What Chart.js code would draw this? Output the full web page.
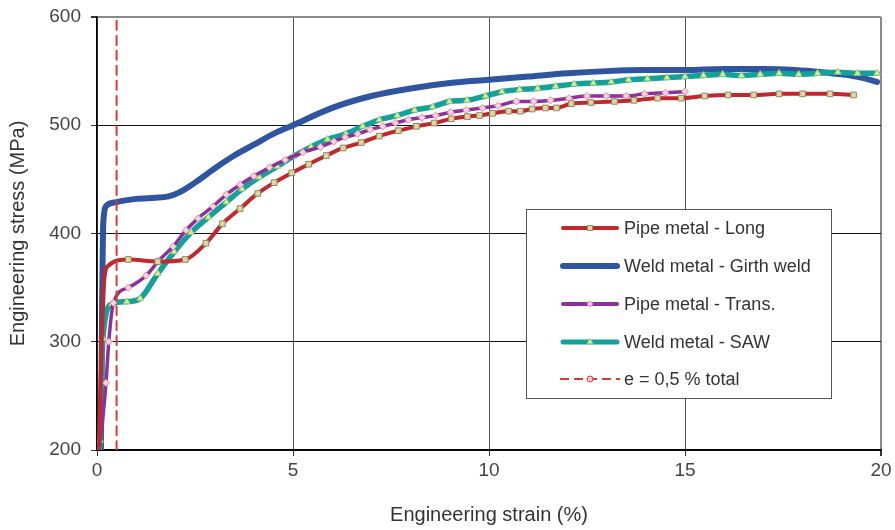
<!DOCTYPE html>
<html>
<head>
<meta charset="utf-8">
<script src="https://cdn.jsdelivr.net/npm/chart.js@4.4.0/dist/chart.umd.min.js"></script>
<style>
  html, body { margin: 0; padding: 0; background: #fff; }
  #wrap { width: 895px; height: 530px; position: relative; }
</style>
</head>
<body>
<div id="wrap"><canvas id="chartStress"></canvas></div>
<script>
// series names
const nomes = ['Pipe metal - Long', 'Weld metal - Girth weld', 'Pipe metal - Trans.', 'Weld metal - SAW', 'e = 0,5 % total'];

// Pipe metal - Long
const longX = [0.05, 0.12, 0.18, 0.28, 0.8, 1.55, 2.25, 2.78, 3.2, 3.65, 4.1, 4.52, 4.97, 5.4, 5.85, 6.28, 6.74, 7.2, 7.69, 8.15, 8.6, 9.04, 9.45, 9.76, 10.09, 10.5, 10.8, 11.1, 11.44, 11.72, 12.1, 12.6, 13.2, 13.7, 14.3, 14.9, 15.5, 16.1, 16.75, 17.4, 18.0, 18.7, 19.3];
const longY = [200, 300, 355, 370, 376, 374, 376, 391, 409, 423, 437, 447, 456, 464, 472, 479, 484, 490, 495, 499, 502, 506, 508, 509, 511, 513, 513, 515, 516, 516, 520, 521, 522, 523, 525, 525, 527, 528, 528, 529, 529, 529, 528];

// Weld metal - Girth weld
const girthX = [0.1, 0.13, 0.16, 0.25, 0.5, 1.0, 1.5, 1.8, 2.1, 2.5, 3.0, 3.5, 4.0, 4.5, 5.0, 6.0, 7.0, 8.0, 9.0, 10.0, 11.0, 12.0, 13.0, 14.0, 15.0, 16.0, 17.0, 17.8, 18.5, 19.0, 19.5, 19.9];
const girthY = [200, 330, 410, 426, 429, 432, 433, 434, 438, 447, 460, 472, 482, 492, 500, 516, 527, 534, 539, 542, 545, 548, 550, 551, 551, 552, 552, 551, 549, 547, 544, 540];

// Pipe metal - Trans.
const transX = [0.05, 0.15, 0.23, 0.3, 0.42, 0.8, 1.25, 1.58, 1.94, 2.27, 2.58, 2.96, 3.3, 3.65, 4.0, 4.4, 4.8, 5.25, 5.7, 6.04, 6.33, 6.65, 6.97, 7.29, 7.61, 7.94, 8.29, 8.64, 9.02, 9.42, 9.83, 10.23, 10.7, 11.14, 11.57, 12.04, 12.5, 13.0, 13.5, 13.97, 14.5, 15.0];
const transY = [200, 230, 262, 300, 336, 350, 361, 375, 388, 403, 414, 425, 436, 445, 453, 461, 468, 475, 480, 485, 489, 492, 496, 499, 502, 505, 507, 509, 512, 514, 516, 518, 522, 522, 523, 525, 527, 527, 527, 529, 530, 531];

// Weld metal - SAW
const sawX = [0.05, 0.08, 0.15, 0.38, 0.76, 1.1, 1.55, 1.97, 2.4, 2.84, 3.3, 3.7, 4.14, 4.6, 5.0, 5.46, 5.88, 6.35, 6.78, 7.2, 7.66, 8.1, 8.56, 8.99, 9.44, 9.91, 10.33, 10.78, 11.24, 11.7, 12.17, 12.66, 13.12, 13.56, 14.04, 14.54, 15.0, 15.47, 15.96, 16.44, 16.92, 17.4, 17.9, 18.38, 18.9, 19.4, 19.9];
const sawY = [200, 209, 303, 335, 337, 340, 363, 383, 401, 415, 429, 441, 452, 462, 471, 480, 487, 492, 499, 505, 509, 514, 517, 522, 523, 527, 531, 533, 534, 536, 538, 539, 540, 542, 543, 544, 545, 546, 547, 546, 547, 548, 547, 548, 549, 548, 548];

// e = 0,5 % total
const limX = [0.5, 0.5];
const limY = [200, 600];

// axes
const xTicks = [0, 5, 10, 15, 20];
const yTicks = [200, 300, 400, 500, 600];

function pontos(xs, ys) {
  return xs.map((x, i) => ({ x: x, y: ys[i] }));
}

const fonte = 'Liberation Sans, Arial, sans-serif';

const datasets = [
  {
    label: nomes[0], data: pontos(longX, longY),
    borderColor: '#c1272d', borderWidth: 4,
    pointStyle: 'rect', pointRadius: ctx => ctx.dataIndex < 4 ? 0 : 4,
    pointBackgroundColor: '#dcd8a4', pointBorderColor: '#8f8a5e', pointBorderWidth: 1,
    order: 1
  },
  {
    label: nomes[1], data: pontos(girthX, girthY),
    borderColor: '#2f55a1', borderWidth: 6,
    pointRadius: 0, order: 4
  },
  {
    label: nomes[2], data: pontos(transX, transY),
    borderColor: '#8e2f9c', borderWidth: 3.5,
    pointStyle: 'rectRot', pointRadius: ctx => ctx.dataIndex < 2 ? 0 : 3.6,
    pointBackgroundColor: '#fbd2da', pointBorderColor: '#d98aa6', pointBorderWidth: 1,
    order: 2
  },
  {
    label: nomes[3], data: pontos(sawX, sawY),
    borderColor: '#13a19b', borderWidth: 5.5,
    pointStyle: 'triangle', pointRadius: ctx => ctx.dataIndex < 1 ? 0 : 3.8,
    pointBackgroundColor: '#d6efa6', pointBorderColor: '#a3c96a', pointBorderWidth: 1,
    order: 3
  },
  {
    label: nomes[4], data: pontos(limX, limY),
    borderColor: '#dc3a2e', borderWidth: 2, borderDash: [9, 6],
    pointRadius: 0, pointStyle: 'circle',
    pointBackgroundColor: '#f8c9cf', pointBorderColor: '#dc3a2e',
    order: 0
  }
];

// legenda desenhada dentro da area do grafico
const legendaBox = {
  id: 'legendaBox',
  afterDraw(chart) {
    const ctx = chart.ctx;
    const bx = 526.5, by = 209.5, bw = 305, bh = 189;
    ctx.save();
    ctx.fillStyle = '#fff';
    ctx.fillRect(bx, by, bw, bh);
    ctx.strokeStyle = '#555';
    ctx.lineWidth = 1;
    ctx.strokeRect(bx, by, bw, bh);
    const ys = [228, 266, 304, 342, 379];
    const estilos = [
      { w: 4, dash: [], marca: 'rect', r: 3.6 },
      { w: 6, dash: [], marca: null, r: 0 },
      { w: 4, dash: [], marca: 'rectRot', r: 3.2 },
      { w: 5, dash: [], marca: 'triangle', r: 3.4 },
      { w: 2, dash: [9, 5], marca: 'circle', r: 3 }
    ];
    chart.data.datasets.forEach((ds, i) => {
      const y = ys[i];
      const e = estilos[i];
      ctx.save();
      ctx.strokeStyle = ds.borderColor;
      ctx.lineWidth = e.w;
      ctx.lineCap = e.dash.length ? 'butt' : 'round';
      ctx.setLineDash(e.dash);
      ctx.beginPath();
      ctx.moveTo(e.dash.length ? 560 : 563, y);
      ctx.lineTo(e.dash.length ? 620 : 617, y);
      ctx.stroke();
      ctx.restore();
      if (e.marca) {
        ctx.save();
        ctx.fillStyle = ds.pointBackgroundColor;
        ctx.strokeStyle = ds.pointBorderColor;
        ctx.lineWidth = 1;
        Chart.helpers.drawPoint(ctx, { pointStyle: e.marca, radius: e.r, rotation: 0, borderWidth: 1 }, 590, y);
        ctx.restore();
      }
      ctx.fillStyle = '#333';
      ctx.font = '18px ' + fonte;
      ctx.textBaseline = 'middle';
      ctx.textAlign = 'left';
      ctx.fillText(ds.label, 624, y + 1);
    });
    ctx.restore();
  }
};

new Chart(document.getElementById('chartStress'), {
  type: 'line',
  data: { datasets: datasets },
  plugins: [legendaBox],
  options: {
    responsive: true,
    maintainAspectRatio: false,
    animation: false,
    layout: { padding: { top: 17, right: 14, left: 0, bottom: 0 } },
    elements: {
      line: { cubicInterpolationMode: 'monotone', borderCapStyle: 'round', borderJoinStyle: 'round' }
    },
    plugins: { legend: { display: false }, tooltip: { enabled: false } },
    scales: {
      x: {
        type: 'linear', min: 0, max: 20,
        afterBuildTicks: s => { s.ticks = xTicks.map(v => ({ value: v })); },
        afterFit: s => { s.height = 80; s.paddingLeft = 0; s.paddingRight = 0; },
        ticks: { color: '#444', font: { family: fonte, size: 19 }, padding: 3 },
        grid: {
          color: c => c.tick && c.tick.value === 20 ? '#8a8a8a' : '#555',
          lineWidth: c => c.tick && c.tick.value === 20 ? 2 : 1,
          tickLength: 6, tickColor: '#333'
        },
        border: { color: '#000', width: 1.5 },
        title: {
          display: true, text: 'Engineering strain (%)', color: '#333',
          font: { family: fonte, size: 20 }, padding: { top: 0, bottom: 3 }
        }
      },
      y: {
        type: 'linear', min: 200, max: 600,
        afterBuildTicks: s => { s.ticks = yTicks.map(v => ({ value: v })); },
        afterFit: s => { s.width = 97; s.paddingTop = 0; s.paddingBottom = 0; },
        ticks: { color: '#444', font: { family: fonte, size: 19 }, padding: 10 },
        grid: {
          color: c => c.tick && c.tick.value === 600 ? '#8a8a8a' : '#111',
          lineWidth: c => c.tick && c.tick.value === 600 ? 2 : 1,
          tickLength: 6, tickColor: '#333'
        },
        border: { color: '#000', width: 1.5 },
        title: {
          display: true, text: 'Engineering stress (MPa)', color: '#333',
          font: { family: fonte, size: 20 }, padding: { top: 6, bottom: 0 }
        }
      }
    }
  }
});
</script>
</body>
</html>
